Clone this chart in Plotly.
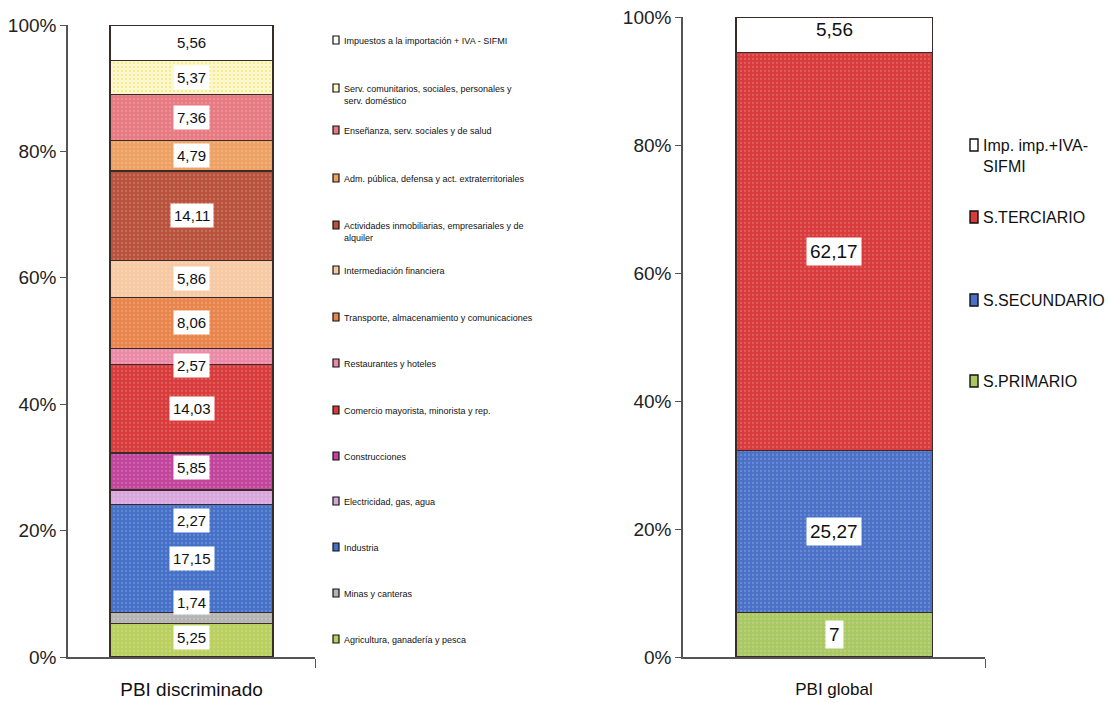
import plotly.graph_objects as go

# --- PBI discriminado (stacked, bottom to top) ---
sectores = [
    "Agricultura, ganadería y pesca",
    "Minas y canteras",
    "Industria",
    "Electricidad, gas, agua",
    "Construcciones",
    "Comercio mayorista, minorista y rep.",
    "Restaurantes y hoteles",
    "Transporte, almacenamiento y comunicaciones",
    "Intermediación financiera",
    "Actividades inmobiliarias, empresariales y de<br>alquiler",
    "Adm. pública, defensa y act. extraterritoriales",
    "Enseñanza, serv. sociales y de salud",
    "Serv. comunitarios, sociales, personales y<br>serv. doméstico",
    "Impuestos a la importación + IVA - SIFMI",
]
valores_sector = [5.25, 1.74, 17.15, 2.27, 5.85, 14.03, 2.57, 8.06, 5.86, 14.11, 4.79, 7.36, 5.37, 5.56]
colores_sector = ["#b9cf5e", "#b4b4b4", "#4570c8", "#d9a6dc", "#c2449c", "#d93b3b", "#ea8aa6",
                  "#e9854c", "#f6c9a3", "#b9523c", "#eea163", "#e77a82", "#fdf7cf", "#ffffff"]

# --- PBI global ---
grandes = ["S.PRIMARIO", "S.SECUNDARIO", "S.TERCIARIO", "Imp. imp.+IVA-<br>SIFMI"]
valores_grandes = [7, 25.27, 62.17, 5.56]
colores_grandes = ["#a9c862", "#4a70c8", "#d93b3b", "#ffffff"]

ticks_y = [0, 20, 40, 60, 80, 100]
ticks_txt = ["0%", "20%", "40%", "60%", "80%", "100%"]

W, H = 1108, 703
FONT = "Liberation Sans, Arial"


def px(x):
    return x / W


def py(y):
    return 1 - y / H


def fmt(v):
    return f"{v:g}".replace(".", ",")


fig = go.Figure()

# small nudges for labels on the thin segments
ajuste_etiqueta = {1: 16, 3: -23, 6: -9, 4: 4, 0: 3}

acum = 0
for i, (nom, v, c) in enumerate(zip(sectores, valores_sector, colores_sector)):
    fig.add_trace(go.Bar(
        x=[0], y=[v], name=nom, xaxis="x", yaxis="y", width=0.66,
        marker=dict(color=c, line=dict(color="#3a2b2b", width=1.3),
                    pattern=dict(shape=".", fillmode="overlay", size=4, solidity=0.25,
                                 fgcolor="rgba(255,255,255,0.35)" if i != 12 else "#eadb4a")),
        showlegend=False, hoverinfo="skip"))
    fig.add_annotation(x=0, y=acum + v / 2, xref="x", yref="y", text=fmt(v), showarrow=False,
                       yshift=ajuste_etiqueta.get(i, 0), bgcolor="white", borderpad=3,
                       font=dict(family=FONT, size=15, color="#111"))
    acum += v

acum = 0
for nom, v, c in zip(grandes, valores_grandes, colores_grandes):
    fig.add_trace(go.Bar(
        x=[0], y=[v], name=nom, xaxis="x2", yaxis="y2", width=0.65,
        marker=dict(color=c, line=dict(color="#3a2b2b", width=1.3),
                    pattern=dict(shape=".", fillmode="overlay", size=4, solidity=0.25,
                                 fgcolor="rgba(255,255,255,0.35)")),
        showlegend=False, hoverinfo="skip"))
    fig.add_annotation(x=0, y=acum + v / 2, xref="x2", yref="y2", text=fmt(v), showarrow=False,
                       bgcolor="white" if c != "#ffffff" else "rgba(0,0,0,0)", borderpad=3,
                       yshift=5 if c == "#ffffff" else 0,
                       font=dict(family=FONT, size=19, color="#111"))
    acum += v

# legend of the detailed bar (drawn as boxes + text)
leg1_x = 333
leg1_y = [40, 88, 130, 178, 225, 270, 317, 363, 410, 456, 501, 547, 593, 639]
for k, idx in enumerate(reversed(range(len(sectores)))):
    yc = leg1_y[k]
    fig.add_shape(type="rect", xref="paper", yref="paper",
                  x0=px(leg1_x), x1=px(leg1_x + 6), y0=py(yc + 4), y1=py(yc - 4),
                  fillcolor=colores_sector[idx], line=dict(color="#111", width=1.2))
    fig.add_annotation(x=px(leg1_x + 9), y=py(yc - 6), xref="paper", yref="paper",
                       xanchor="left", yanchor="top", align="left", showarrow=False,
                       text=sectores[idx], font=dict(family=FONT, size=9, color="#111"))

# legend of the global bar
leg2_x = 970
leg2_y = [145, 217, 300, 381]
for k, idx in enumerate(reversed(range(len(grandes)))):
    yc = leg2_y[k]
    fig.add_shape(type="rect", xref="paper", yref="paper",
                  x0=px(leg2_x), x1=px(leg2_x + 8), y0=py(yc + 6), y1=py(yc - 6),
                  fillcolor=colores_grandes[idx], line=dict(color="#111", width=1.4))
    fig.add_annotation(x=px(leg2_x + 11), y=py(yc - 10), xref="paper", yref="paper",
                       xanchor="left", yanchor="top", align="left", showarrow=False,
                       text=grandes[idx], font=dict(family=FONT, size=16, color="#111"))

eje_y = dict(range=[0, 100], tickvals=ticks_y, ticktext=ticks_txt, showgrid=False,
             showline=True, linecolor="#555", linewidth=1.5, ticks="outside", ticklen=6,
             tickcolor="#555", tickfont=dict(family=FONT, size=19, color="#222"),
             zeroline=False, automargin=False)
eje_x = dict(range=[-0.5, 0.5], tickvals=[0.5], ticktext=[""], showgrid=False, showline=True,
             linecolor="#555", linewidth=1.5, ticks="outside", ticklen=9, tickcolor="#555",
             zeroline=False, automargin=False)

fig.update_layout(
    template="none",
    width=W, height=H, margin=dict(l=0, r=0, t=0, b=0, autoexpand=False),
    paper_bgcolor="white", plot_bgcolor="white", barmode="stack",
    xaxis=dict(eje_x, domain=[px(68), px(315)], anchor="y",
               title=dict(text="PBI discriminado", standoff=14,
                          font=dict(family=FONT, size=19, color="#111"))),
    yaxis=dict(eje_y, domain=[py(657), py(25)], anchor="x"),
    xaxis2=dict(eje_x, domain=[px(683), px(985)], anchor="y2",
                title=dict(text="PBI global", standoff=14,
                           font=dict(family=FONT, size=17, color="#111"))),
    yaxis2=dict(eje_y, domain=[py(657), py(17)], anchor="x2"),
)

fig.write_html("out.html")
